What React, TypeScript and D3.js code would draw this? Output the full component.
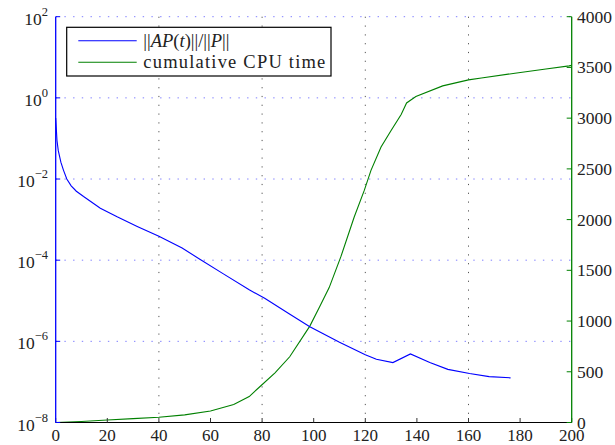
import React from 'react';
import * as d3 from 'd3';

// residual norm ||AP(t)||/||P||
const resT = [0, 0.5, 1, 2, 3, 4.3, 6, 8, 10.8, 17.3, 23.8, 31.6, 40, 49, 55.4, 65, 75, 81, 90, 98.5, 110, 120, 124.3, 130.7, 137.5, 145, 152, 160.4, 168, 176.3];
const resVal = [3.2e-1, 8.9e-2, 5.0e-2, 2.6e-2, 1.66e-2, 1.0e-2, 6.8e-3, 5.0e-3, 3.7e-3, 1.9e-3, 1.17e-3, 6.8e-4, 3.9e-4, 2.0e-4, 1.1e-4, 4.6e-5, 1.86e-5, 1.15e-5, 5.0e-6, 2.3e-6, 9.5e-7, 4.7e-7, 3.6e-7, 3.0e-7, 4.9e-7, 3.0e-7, 2.04e-7, 1.62e-7, 1.35e-7, 1.26e-7];

// cumulative CPU time on the right axis
const cpuT = [0, 10, 20, 30, 40, 50, 60, 69, 75, 79, 85, 90.7, 98.5, 102.3, 106, 110.5, 115.7, 119.6, 122.2, 126.1, 130, 133.9, 136, 139.6, 150, 160, 165, 178, 190, 199, 200];
const cpuVal = [0, 10, 25, 38, 51, 75, 113, 177, 256, 350, 490, 648, 950, 1140, 1330, 1632, 2026, 2288, 2485, 2715, 2879, 3036, 3150, 3213, 3318, 3377, 3395, 3443, 3485, 3515, 3520];

const xTicks = [0, 20, 40, 60, 80, 100, 120, 140, 160, 180, 200];
const xGrid = [40, 80, 120, 160];
const leftExps = [2, 0, -2, -4, -6, -8];
const rightTicks = [0, 500, 1000, 1500, 2000, 2500, 3000, 3500, 4000];

const W = 615;
const H = 445;
const left = 55.7;
const right = 571.7;
const top = 16.7;
const bottom = 422.5;
const serif = 'Liberation Serif, DejaVu Serif, Noto Serif, Times New Roman, Times, serif';
const blue = '#0000ff';
const green = '#008000';

export default function App() {
  const x = d3.scaleLinear().domain([0, 200]).range([left, right]);
  const yL = d3.scaleLog().domain([1e-8, 1e2]).range([bottom, top]);
  const yR = d3.scaleLinear().domain([0, 4000]).range([bottom, top]);

  const resLine = d3.line<number>().x((_, i) => x(resT[i])).y(d => yL(d))(resVal) || '';
  const cpuLine = d3.line<number>().x((_, i) => x(cpuT[i])).y(d => yR(d))(cpuVal) || '';

  return (
    <svg width={W} height={H} style={{ position: 'absolute', left: 0, top: 0 }}>
      <rect width={W} height={H} fill="#fff" />

      {/* grid */}
      {leftExps.filter(e => e > -8).map(e => (
        <line key={'hg' + e} x1={left} x2={right} y1={yL(Math.pow(10, e))} y2={yL(Math.pow(10, e))}
          stroke="#7f7fff" strokeWidth={1} strokeDasharray="1.4,7.3" />
      ))}
      {xGrid.map(t => (
        <line key={'vg' + t} x1={x(t)} x2={x(t)} y1={top} y2={bottom}
          stroke="#555" strokeWidth={1} strokeDasharray="1.2,7.6" />
      ))}

      <path d={cpuLine} fill="none" stroke={green} strokeWidth={1.1} />
      <path d={resLine} fill="none" stroke={blue} strokeWidth={1.1} />

      <g fontFamily={serif} fill="#222">
        {/* bottom axis */}
        <line x1={left} x2={right} y1={bottom} y2={bottom} stroke="#000" strokeWidth={1.2} />
        {xTicks.map(t => (
          <g key={'xt' + t}>
            <line x1={x(t)} x2={x(t)} y1={bottom} y2={bottom - 4.5} stroke="#333" strokeWidth={1} />
            <text x={x(t)} y={441} textAnchor="middle" fontSize={17}>{t}</text>
          </g>
        ))}

        {/* left log axis */}
        <line x1={left} x2={left} y1={top} y2={bottom} stroke={blue} strokeWidth={1.3} />
        {leftExps.map(e => {
          const yy = yL(Math.pow(10, e));
          return (
            <g key={'lt' + e}>
              <line x1={left} x2={left + 4.5} y1={yy} y2={yy} stroke={blue} strokeWidth={1} />
              <text x={48} y={yy + 8} textAnchor="end" fontSize={17.5}>
                10<tspan dy={-9} fontSize={12.5}>{e < 0 ? '\u2212' + Math.abs(e) : String(e)}</tspan>
              </text>
            </g>
          );
        })}

        {/* right linear axis */}
        <line x1={right} x2={right} y1={top} y2={bottom} stroke={green} strokeWidth={1.3} />
        {rightTicks.map(v => (
          <g key={'rt' + v}>
            <line x1={right} x2={right - 5} y1={yR(v)} y2={yR(v)} stroke={green} strokeWidth={1} />
            <text x={577} y={yR(v) + 6} fontSize={17.5}>{v}</text>
          </g>
        ))}

        {/* legend */}
        <rect x={66.7} y={27.3} width={264.3} height={48.7} fill="#fff" stroke="#000" strokeWidth={1.2} />
        <line x1={78.3} x2={136.7} y1={40.7} y2={40.7} stroke={blue} strokeWidth={1.1} />
        <line x1={78.3} x2={136.7} y1={62.3} y2={62.3} stroke={green} strokeWidth={1.1} />
        <text x={143.3} y={47} fontSize={18.5}>
          ||<tspan fontStyle="italic">AP</tspan>(<tspan fontStyle="italic">t</tspan>)||/||<tspan fontStyle="italic">P</tspan>||
        </text>
        <text x={143.3} y={68.3} fontSize={18.5} textLength={182} lengthAdjust="spacing">cumulative CPU time</text>
      </g>
    </svg>
  );
}
